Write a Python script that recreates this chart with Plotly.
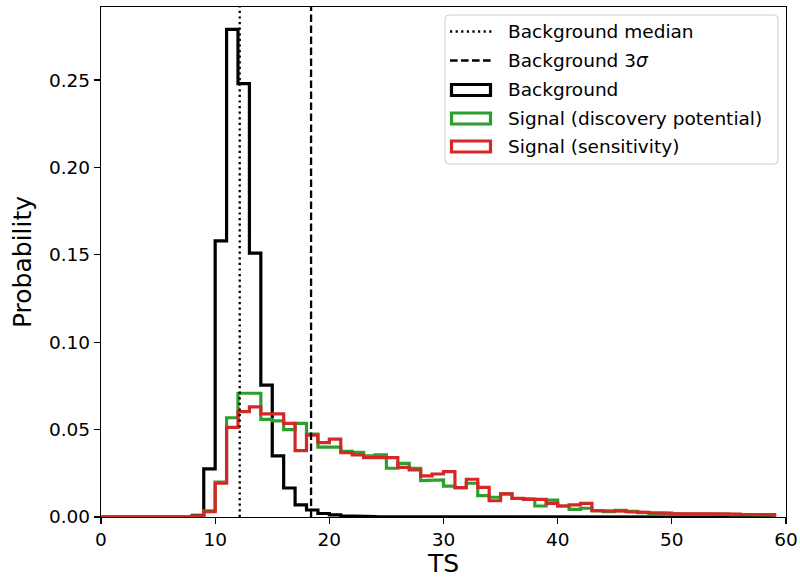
import plotly.graph_objects as go

# ---------------- data ----------------
bin_edges = list(range(0, 60))  # 0..59, 59 bins of width 1

background = [0, 0, 0, 0, 0, 0, 0, 0, 0.001, 0.0275,
              0.158, 0.279, 0.248, 0.151, 0.0755, 0.035, 0.0166, 0.0069, 0.004, 0.002,
              0.0012, 0.0007, 0.0004, 0.0003, 0.0002, 0.0002, 0.0001, 0.0001, 0, 0,
              0, 0, 0, 0, 0, 0, 0, 0, 0, 0,
              0, 0, 0, 0, 0, 0, 0, 0, 0, 0,
              0, 0, 0, 0, 0, 0, 0, 0, 0]

signal_discovery = [0, 0, 0, 0, 0, 0, 0, 0, 0.0005, 0.0035,
                    0.020, 0.0568, 0.0708, 0.0708, 0.0559, 0.055, 0.050, 0.0536, 0.0475, 0.040,
                    0.040, 0.0375, 0.037, 0.035, 0.0355, 0.0279, 0.0307, 0.0279, 0.0208, 0.0212,
                    0.0177, 0.0168, 0.0193, 0.0122, 0.0113, 0.0132, 0.0107, 0.0103, 0.0063, 0.0097,
                    0.0063, 0.0044, 0.005, 0.0036, 0.003, 0.0038, 0.0033, 0.0025, 0.002, 0.0022,
                    0.0018, 0.0016, 0.0019, 0.0018, 0.0016, 0.0014, 0.0013, 0.0014, 0.0012]

signal_sensitivity = [0, 0, 0, 0, 0, 0, 0, 0, 0.0005, 0.003,
                      0.0193, 0.0513, 0.0603, 0.063, 0.059, 0.059, 0.0536, 0.038, 0.0469, 0.0425,
                      0.0445, 0.0368, 0.0355, 0.034, 0.034, 0.034, 0.0284, 0.0269, 0.0235, 0.0246,
                      0.026, 0.0168, 0.0216, 0.017, 0.0093, 0.0132, 0.0107, 0.0101, 0.0101, 0.0078,
                      0.0063, 0.0069, 0.0078, 0.0036, 0.0036, 0.0033, 0.003, 0.0027, 0.0025, 0.0022,
                      0.002, 0.002, 0.0018, 0.0018, 0.0017, 0.0016, 0.0015, 0.0015, 0.0014]

bg_median = 12.15
bg_3sigma = 18.4

x_ticks = [0, 10, 20, 30, 40, 50, 60]
y_ticks = [0.00, 0.05, 0.10, 0.15, 0.20, 0.25]

legend_labels = ["Background median", "Background 3<i>σ</i>", "Background",
                 "Signal (discovery potential)", "Signal (sensitivity)"]

# ---------------- figure ----------------
W, H = 800, 578
L, R, T, B = 101, 14, 7, 61
PW, PH = W - L - R, H - T - B
Y_TOP = 0.2918

BLACK = "#000000"
GREEN = "#2ca02c"
RED = "#d62728"
FONT = "DejaVu Sans"


def step_xy(edges, vals):
    xs, ys = [edges[0]], [0]
    for i, v in enumerate(vals):
        xs += [edges[i], edges[i + 1]]
        ys += [v, v]
    xs.append(edges[len(vals)])
    ys.append(0)
    return xs, ys


fig = go.Figure()
for vals, col in [(background, BLACK), (signal_discovery, GREEN), (signal_sensitivity, RED)]:
    xs, ys = step_xy(bin_edges, vals)
    fig.add_trace(go.Scatter(x=xs, y=ys, mode="lines", line=dict(color=col, width=3.2),
                             showlegend=False, hoverinfo="skip"))

DOT = "2.2px,3.4px"
DASH = "7.6px,3.4px"
# vertical reference lines
fig.add_shape(type="line", xref="x", yref="paper", x0=bg_median, x1=bg_median, y0=0, y1=1,
              line=dict(color=BLACK, width=2.3, dash=DOT))
fig.add_shape(type="line", xref="x", yref="paper", x0=bg_3sigma, x1=bg_3sigma, y0=0, y1=1,
              line=dict(color=BLACK, width=2.3, dash=DASH))


def px(xp):
    return (xp - L) / PW


def py(yp):
    return (T + PH - yp) / PH


# custom legend box (rounded)
bx0, bx1, by0, by1, r = 445, 778, 15, 164, 4
path = (f"M {px(bx0 + r)} {py(by0)} L {px(bx1 - r)} {py(by0)} "
        f"Q {px(bx1)} {py(by0)} {px(bx1)} {py(by0 + r)} "
        f"L {px(bx1)} {py(by1 - r)} Q {px(bx1)} {py(by1)} {px(bx1 - r)} {py(by1)} "
        f"L {px(bx0 + r)} {py(by1)} Q {px(bx0)} {py(by1)} {px(bx0)} {py(by1 - r)} "
        f"L {px(bx0)} {py(by0 + r)} Q {px(bx0)} {py(by0)} {px(bx0 + r)} {py(by0)} Z")
fig.add_shape(type="path", xref="paper", yref="paper", path=path,
              line=dict(color="#cccccc", width=1), fillcolor="rgba(255,255,255,0.8)")

row_y = [31.5, 60.5, 90, 118.5, 146.5]
sx0, sx1 = 450, 492
# symbols
fig.add_shape(type="line", xref="paper", yref="paper", x0=px(sx0), x1=px(sx1),
              y0=py(row_y[0]), y1=py(row_y[0]), line=dict(color=BLACK, width=2.3, dash=DOT))
fig.add_shape(type="line", xref="paper", yref="paper", x0=px(sx0), x1=px(sx1),
              y0=py(row_y[1]), y1=py(row_y[1]), line=dict(color=BLACK, width=2.3, dash=DASH))
for yy, col in zip(row_y[2:], [BLACK, GREEN, RED]):
    fig.add_shape(type="rect", xref="paper", yref="paper", x0=px(sx0 + 1.5), x1=px(sx1 - 1.5),
                  y0=py(yy - 5.5), y1=py(yy + 5.5), line=dict(color=col, width=3.2),
                  fillcolor="rgba(0,0,0,0)")
for yy, lab in zip(row_y, legend_labels):
    fig.add_annotation(xref="paper", yref="paper", x=px(506), y=py(yy), text=lab,
                       showarrow=False, xanchor="left", yanchor="middle",
                       font=dict(family=FONT, size=18.5, color=BLACK))

axis_common = dict(showline=True, linecolor=BLACK, linewidth=1.2, mirror=True,
                   ticks="outside", ticklen=6, tickwidth=1.2, tickcolor=BLACK,
                   showgrid=False, zeroline=False, automargin=False,
                   tickfont=dict(family=FONT, size=18.5, color=BLACK))

fig.update_xaxes(range=[0, 60], tickvals=x_ticks, ticktext=[str(t) for t in x_ticks],
                 title=dict(text="TS", font=dict(family=FONT, size=25, color=BLACK), standoff=8),
                 **axis_common)
fig.update_yaxes(range=[0, Y_TOP], tickvals=y_ticks, ticktext=[f"{t:.2f}" for t in y_ticks],
                 title=dict(text="Probability", font=dict(family=FONT, size=25, color=BLACK), standoff=10),
                 **axis_common)

fig.update_layout(width=W, height=H, margin=dict(l=L, r=R, t=T, b=B),
                  plot_bgcolor="white", paper_bgcolor="white", showlegend=False,
                  font=dict(family=FONT))

fig.write_html("out.html", config={"displayModeBar": False, "staticPlot": True},
               post_script="document.body.style.margin='0';document.body.style.overflow='hidden';")
